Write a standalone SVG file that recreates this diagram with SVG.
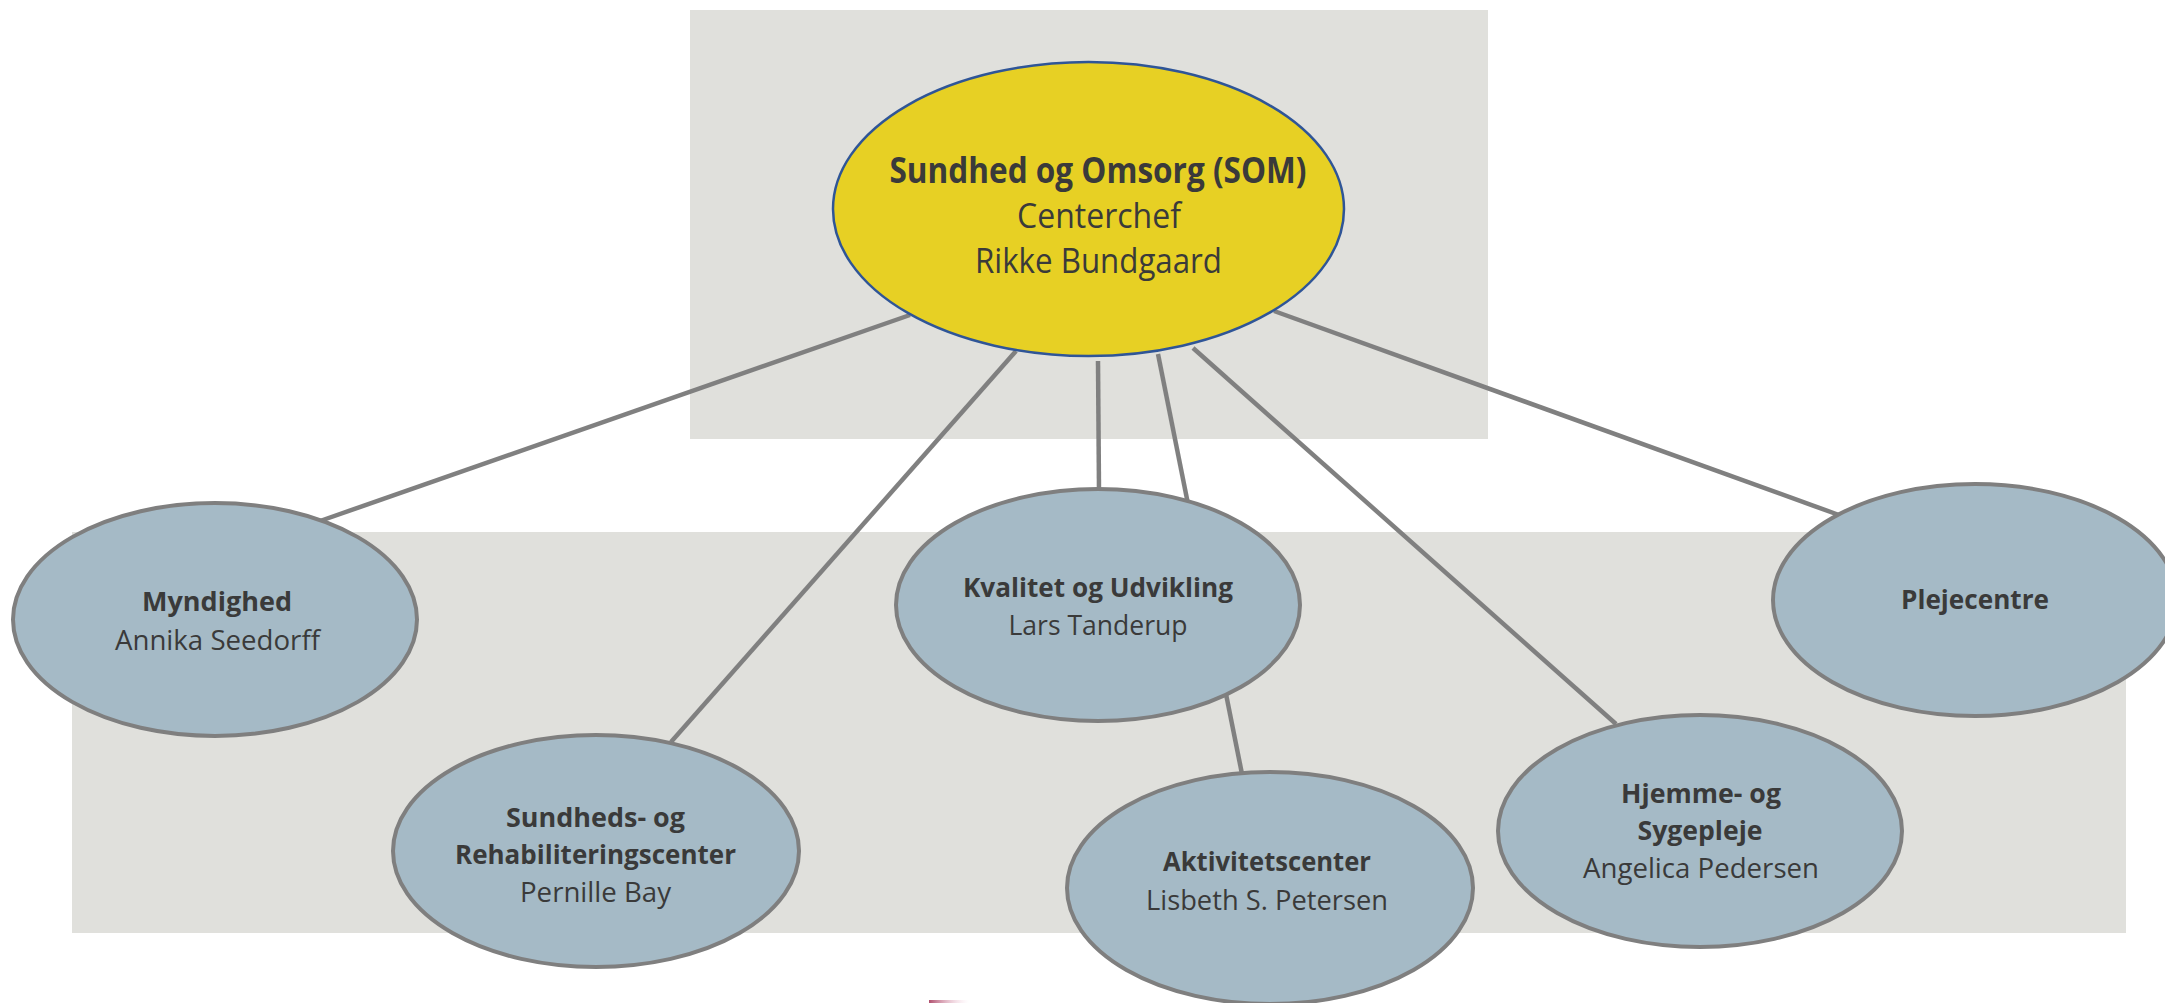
<svg xmlns="http://www.w3.org/2000/svg" width="2165" height="1003" viewBox="0 0 2165 1003">
<defs>
<style>
.bg{fill:#E0E0DC}
.sub{fill:#A5BAC6;stroke:#7F7F7F;stroke-width:4}
.top{fill:#E7D024;stroke:#2F5597;stroke-width:2.5}
.ln{stroke:#808080;stroke-width:4.5;fill:none}
text{font-family:"Open Sans","Liberation Sans",sans-serif;fill:#3A3A3A;text-anchor:middle}
.b{font-weight:bold;font-size:27px}
.r{font-size:27px}
.tb{font-weight:bold;font-size:35px}
.tr{font-size:35px}
</style>
<linearGradient id="pink" x1="0" y1="0" x2="1" y2="0">
<stop offset="0" stop-color="#B0506E"/>
<stop offset="1" stop-color="#F4C8DA" stop-opacity="0"/>
</linearGradient>
</defs>
<rect width="2165" height="1003" fill="#FFFFFF"/>
<rect class="bg" x="690" y="10" width="798" height="429"/>
<rect class="bg" x="72" y="532" width="2054" height="401"/>
<rect x="929" y="1000" width="40" height="3" fill="url(#pink)"/>
<g id="connectors">
<line class="ln" x1="910" y1="315" x2="320" y2="521"/>
<line class="ln" x1="1016" y1="351" x2="671" y2="742"/>
<line class="ln" x1="1098" y1="361" x2="1099" y2="491"/>
<line class="ln" x1="1158" y1="354" x2="1242" y2="774"/>
<line class="ln" x1="1193" y1="348" x2="1616" y2="724"/>
<line class="ln" x1="1274" y1="311" x2="1839" y2="515"/>
</g>
<g id="som">
<ellipse class="top" cx="1088.5" cy="209" rx="255.5" ry="147"/>
<text class="tb" x="1098" y="183" textLength="417" lengthAdjust="spacingAndGlyphs">Sundhed og Omsorg (SOM)</text>
<text class="tr" x="1099" y="228" textLength="164" lengthAdjust="spacingAndGlyphs">Centerchef</text>
<text class="tr" x="1098.5" y="273" textLength="247" lengthAdjust="spacingAndGlyphs">Rikke Bundgaard</text>
</g>
<g id="myndighed">
<ellipse class="sub" cx="215" cy="619.5" rx="202" ry="116.5"/>
<text class="b" x="217" y="611" textLength="150" lengthAdjust="spacingAndGlyphs">Myndighed</text>
<text class="r" x="217.5" y="650" textLength="205" lengthAdjust="spacingAndGlyphs">Annika Seedorff</text>
</g>
<g id="sundheds">
<ellipse class="sub" cx="596" cy="851" rx="203" ry="116"/>
<text class="b" x="595.5" y="827" textLength="179" lengthAdjust="spacingAndGlyphs">Sundheds- og</text>
<text class="b" x="595.5" y="864" textLength="281" lengthAdjust="spacingAndGlyphs">Rehabiliteringscenter</text>
<text class="r" x="595.5" y="902" textLength="151" lengthAdjust="spacingAndGlyphs">Pernille Bay</text>
</g>
<g id="kvalitet">
<ellipse class="sub" cx="1098" cy="605" rx="202" ry="116"/>
<text class="b" x="1098" y="597" textLength="270" lengthAdjust="spacingAndGlyphs">Kvalitet og Udvikling</text>
<text class="r" x="1098" y="635" textLength="179" lengthAdjust="spacingAndGlyphs">Lars Tanderup</text>
</g>
<g id="aktivitetscenter">
<ellipse class="sub" cx="1270" cy="888" rx="203" ry="116"/>
<text class="b" x="1267" y="871" textLength="208" lengthAdjust="spacingAndGlyphs">Aktivitetscenter</text>
<text class="r" x="1267" y="910" textLength="242" lengthAdjust="spacingAndGlyphs">Lisbeth S. Petersen</text>
</g>
<g id="hjemme">
<ellipse class="sub" cx="1700" cy="831" rx="202" ry="116"/>
<text class="b" x="1701" y="803" textLength="160" lengthAdjust="spacingAndGlyphs">Hjemme- og</text>
<text class="b" x="1700" y="840" textLength="125" lengthAdjust="spacingAndGlyphs">Sygepleje</text>
<text class="r" x="1701" y="878" textLength="236" lengthAdjust="spacingAndGlyphs">Angelica Pedersen</text>
</g>
<g id="plejecentre">
<ellipse class="sub" cx="1975" cy="600" rx="202" ry="116"/>
<text class="b" x="1975" y="609" textLength="148" lengthAdjust="spacingAndGlyphs">Plejecentre</text>
</g>
</svg>
